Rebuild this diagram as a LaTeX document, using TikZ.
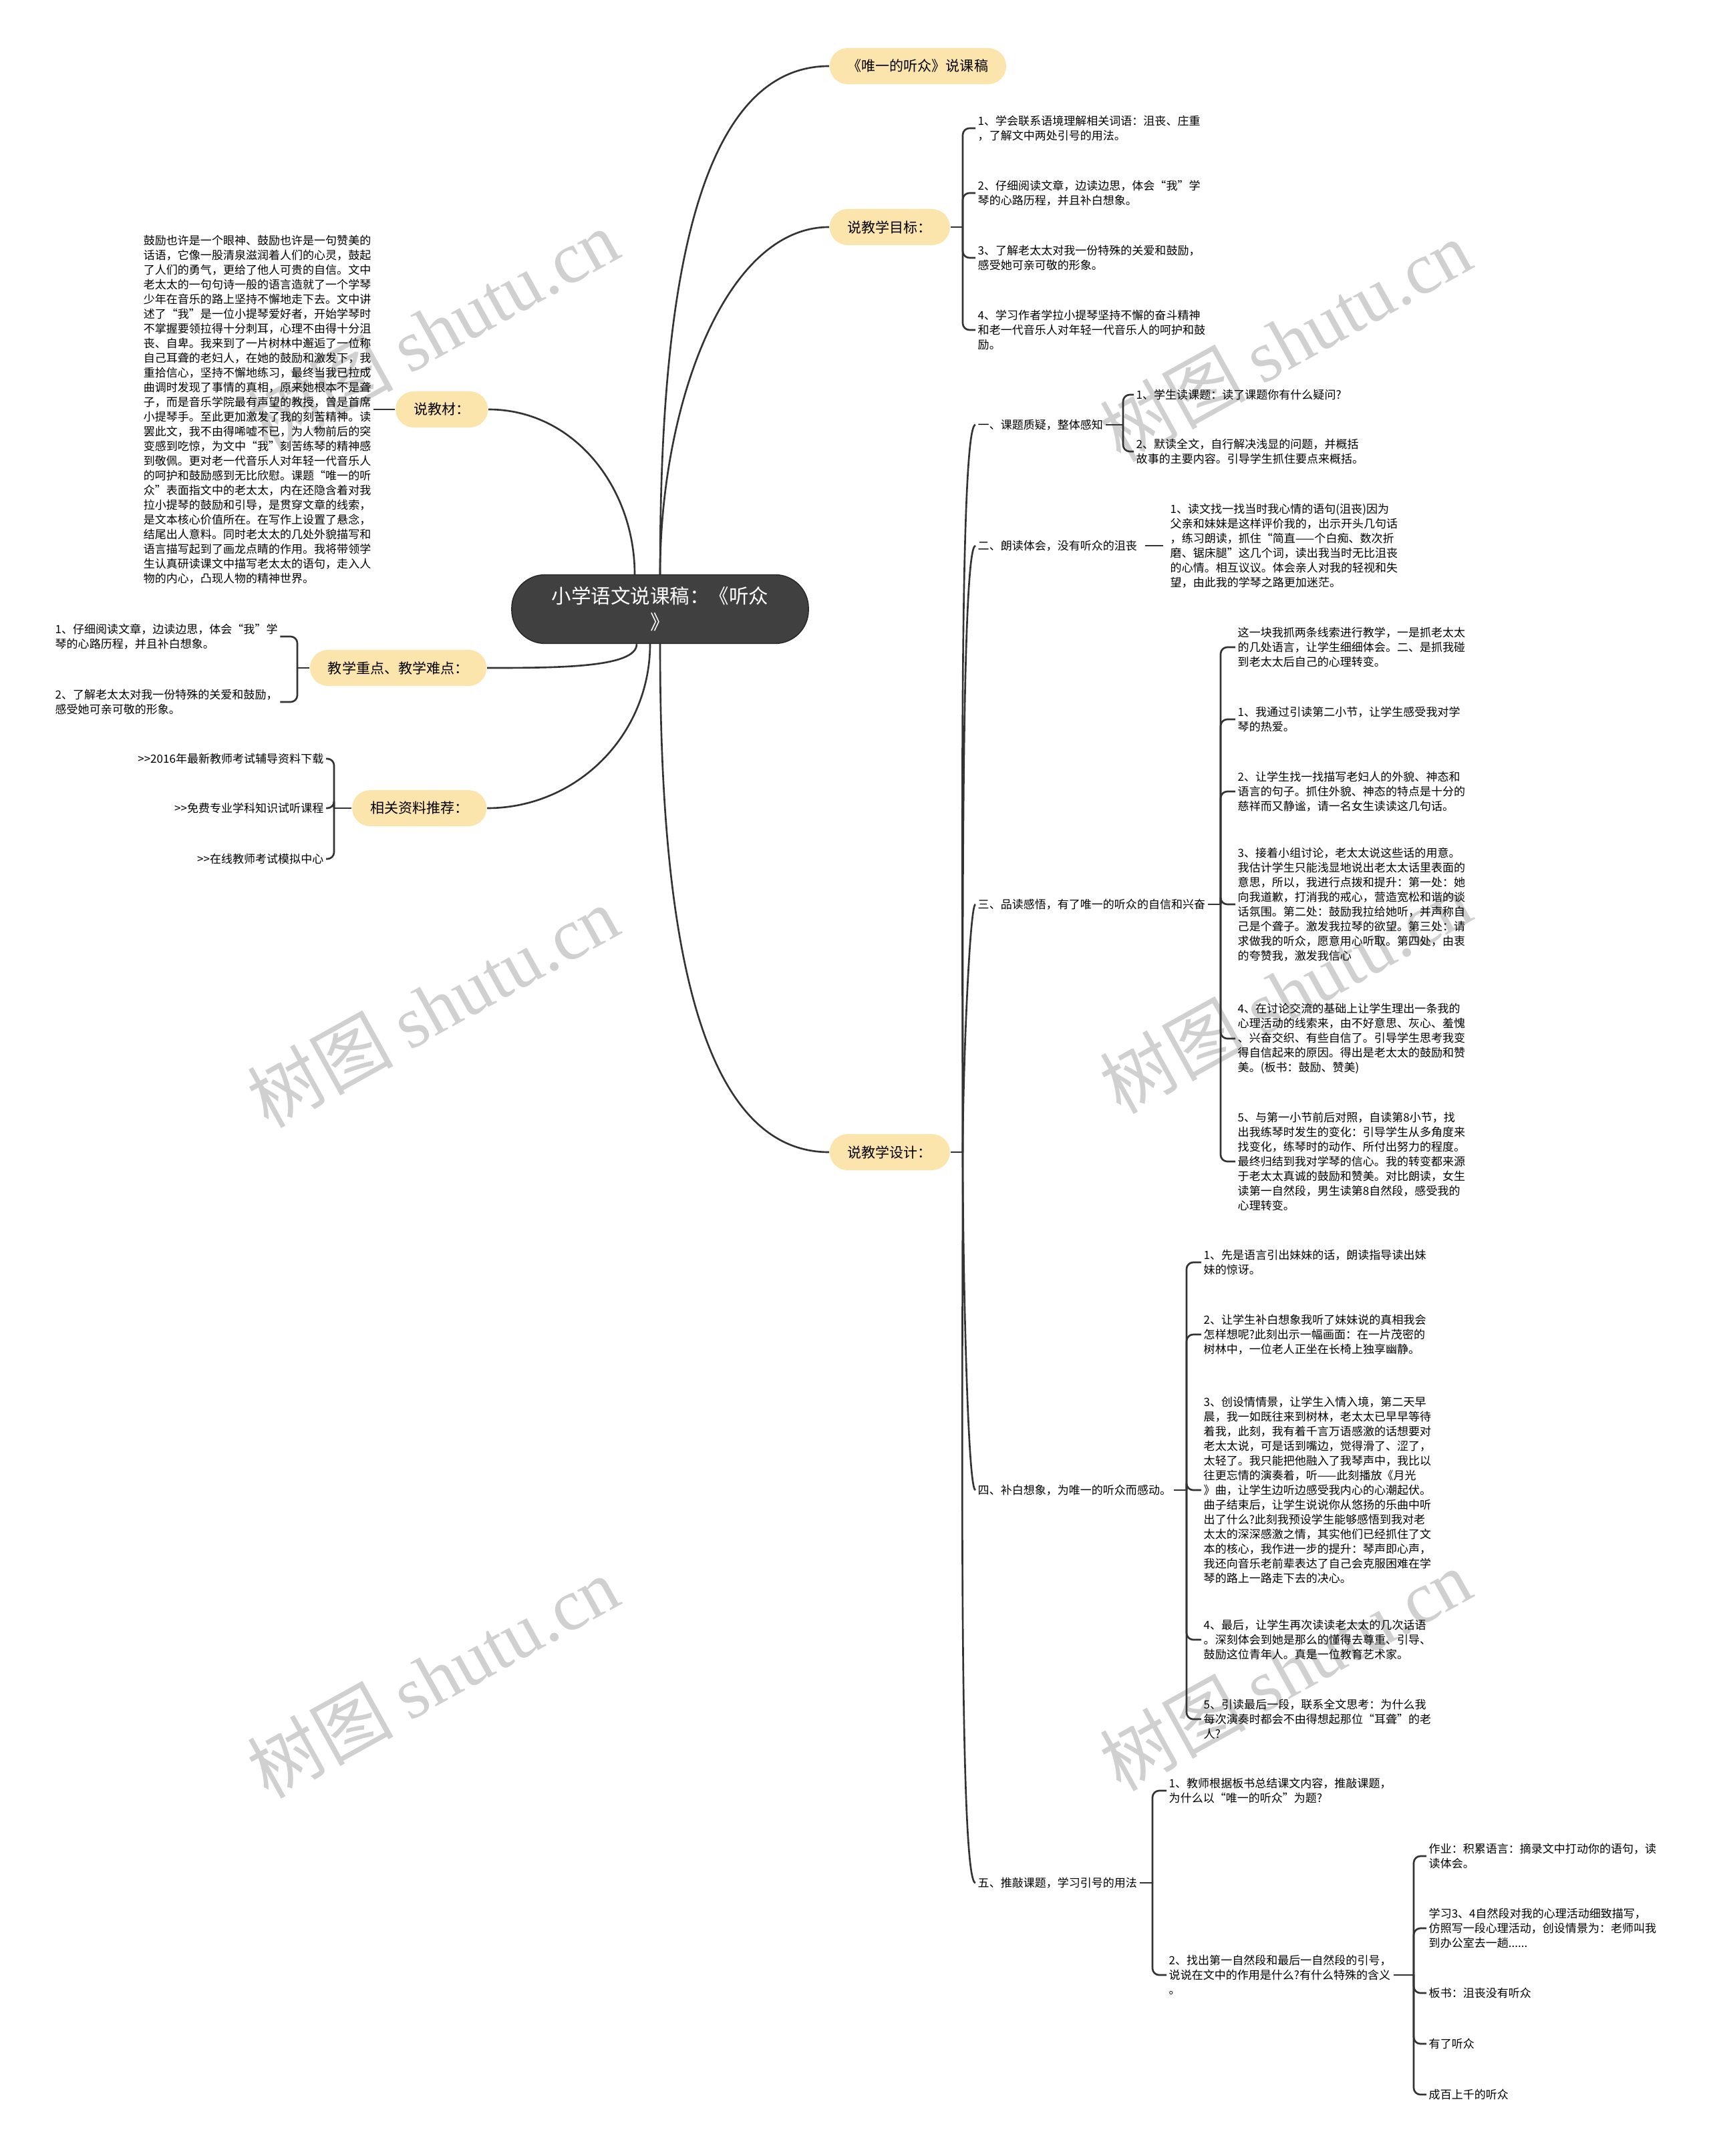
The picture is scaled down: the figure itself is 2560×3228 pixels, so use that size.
\documentclass[tikz,border=0pt]{standalone}
\usepackage{fontspec}
\setmainfont{Noto Sans CJK SC}
\newfontfamily\wmserif{Liberation Serif}
\usepackage{xcolor}
\usepackage{tikz}
\usetikzlibrary{positioning, calc}

\definecolor{branchfill}{RGB}{252,229,172}
\definecolor{rootfill}{RGB}{64,64,64}
\definecolor{rootline}{RGB}{38,38,38}
\definecolor{linegray}{RGB}{51,51,51}
\definecolor{markgray}{RGB}{208,208,208}

\begin{document}
\begin{tikzpicture}[
  x=0.01cm, y=-0.01cm,
  rootbox/.style={
    rectangle,
    draw=rootline,
    fill=rootfill,
    text=white,
    align=center,
    rounded corners=0.5cm,
    minimum width=4.44cm,
    minimum height=1.03cm,
    font=\fontsize{8.4pt}{11.1pt}\selectfont
  },
  branchbox/.style={
    rectangle,
    fill=branchfill,
    rounded corners=0.27cm,
    minimum height=0.54cm,
    inner xsep=0.27cm,
    font=\fontsize{5.98pt}{7pt}\selectfont
  },
  leafbox/.style={
    align=left,
    inner xsep=0.03cm,
    inner ysep=0.02cm,
    font=\fontsize{4.84pt}{6.26pt}\selectfont
  },
  wmark/.style={
    rotate=29,
    text=markgray,
    font=\fontsize{31pt}{31pt}\selectfont
  },
  link/.style={draw=linegray, line width=0.75pt},
  forkline/.style={link, rounded corners=0.1cm},
  curvy/.style={out looseness=1.1, in looseness=0.7},
  fan/.style={out looseness=0.8, in looseness=0.06}
]

  \useasboundingbox (0,0) rectangle (2560,3228);
  \fill[white] (0,0) rectangle (2560,3228);

  % Watermarks
  \node (W1) [wmark] at (648,494)   {树图 {\wmserif shutu.cn}};
  \node (W2) [wmark] at (1924,510)  {树图 {\wmserif shutu.cn}};
  \node (W3) [wmark] at (648,1507)  {树图 {\wmserif shutu.cn}};
  \node (W4) [wmark] at (1924,1486) {树图 {\wmserif shutu.cn}};
  \node (W5) [wmark] at (648,2511)  {树图 {\wmserif shutu.cn}};
  \node (W6) [wmark] at (1924,2500) {树图 {\wmserif shutu.cn}};

  % Root and main branches
  \node (R) [rootbox] at (988,912) {小学语文说课稿：《听众\\》};

  \node (T) [branchbox, anchor=west] at (1241,99)   {《唯一的听众》说课稿};
  \node (M) [branchbox, anchor=west] at (1241,340)  {说教学目标：};
  \node (D) [branchbox, anchor=west] at (1241,1725) {说教学设计：};
  \node (J) [branchbox, anchor=east] at (731,613)   {说教材：};
  \node (Z) [branchbox, anchor=east] at (729,1000)  {教学重点、教学难点：};
  \node (L) [branchbox, anchor=east] at (729,1210)  {相关资料推荐：};

  % Teaching goals
  \node (M1) [leafbox, anchor=west] at (1460,192) {1、学会联系语境理解相关词语：沮丧、庄重\\，了解文中两处引号的用法。};
  \node (M2) [leafbox, anchor=west] at (1460,289) {2、仔细阅读文章，边读边思，体会“我”学\\琴的心路历程，并且补白想象。};
  \node (M3) [leafbox, anchor=west] at (1460,386) {3、了解老太太对我一份特殊的关爱和鼓励，\\感受她可亲可敬的形象。};
  \node (M4) [leafbox, anchor=west] at (1460,494) {4、学习作者学拉小提琴坚持不懈的奋斗精神\\和老一代音乐人对年轻一代音乐人的呵护和鼓\\励。};

  % Teaching material
  \node (J1) [leafbox, anchor=east] at (559,613) {鼓励也许是一个眼神、鼓励也许是一句赞美的\\话语，它像一股清泉滋润着人们的心灵，鼓起\\了人们的勇气，更给了他人可贵的自信。文中\\老太太的一句句诗一般的语言造就了一个学琴\\少年在音乐的路上坚持不懈地走下去。文中讲\\述了“我”是一位小提琴爱好者，开始学琴时\\不掌握要领拉得十分刺耳，心理不由得十分沮\\丧、自卑。我来到了一片树林中邂逅了一位称\\自己耳聋的老妇人，在她的鼓励和激发下，我\\重拾信心，坚持不懈地练习，最终当我已拉成\\曲调时发现了事情的真相，原来她根本不是聋\\子，而是音乐学院最有声望的教授，曾是首席\\小提琴手。至此更加激发了我的刻苦精神。读\\罢此文，我不由得唏嘘不已，为人物前后的突\\变感到吃惊，为文中“我”刻苦练琴的精神感\\到敬佩。更对老一代音乐人对年轻一代音乐人\\的呵护和鼓励感到无比欣慰。课题“唯一的听\\众”表面指文中的老太太，内在还隐含着对我\\拉小提琴的鼓励和引导，是贯穿文章的线索，\\是文本核心价值所在。在写作上设置了悬念，\\结尾出人意料。同时老太太的几处外貌描写和\\语言描写起到了画龙点睛的作用。我将带领学\\生认真研读课文中描写老太太的语句，走入人\\物的内心，凸现人物的精神世界。};

  % Key points
  \node (Z1) [leafbox, anchor=west] at (79,953)  {1、仔细阅读文章，边读边思，体会“我”学\\琴的心路历程，并且补白想象。};
  \node (Z2) [leafbox, anchor=west] at (79,1051) {2、了解老太太对我一份特殊的关爱和鼓励，\\感受她可亲可敬的形象。};

  % Resources
  \node (L1) [leafbox, anchor=east] at (488,1136) {>{}>2016年最新教师考试辅导资料下载};
  \node (L2) [leafbox, anchor=east] at (488,1210) {>{}>免费专业学科知识试听课程};
  \node (L3) [leafbox, anchor=east] at (488,1286) {>{}>在线教师考试模拟中心};

  % Teaching design sections
  \node (S1) [leafbox, anchor=west] at (1460,636)  {一、课题质疑，整体感知};
  \node (S2) [leafbox, anchor=west] at (1460,817)  {二、朗读体会，没有听众的沮丧};
  \node (S3) [leafbox, anchor=west] at (1460,1354) {三、品读感悟，有了唯一的听众的自信和兴奋};
  \node (S4) [leafbox, anchor=west] at (1460,2231) {四、补白想象，为唯一的听众而感动。};
  \node (S5) [leafbox, anchor=west] at (1460,2819) {五、推敲课题，学习引号的用法};

  \node (S1a) [leafbox, anchor=west] at (1697,591) {1、学生读课题：读了课题你有什么疑问?};
  \node (S1b) [leafbox, anchor=west] at (1697,676) {2、默读全文，自行解决浅显的问题，并概括\\故事的主要内容。引导学生抓住要点来概括。};

  \node (S2a) [leafbox, anchor=west] at (1748,817) {1、读文找一找当时我心情的语句(沮丧)因为\\父亲和妹妹是这样评价我的，出示开头几句话\\，练习朗读，抓住“简直——个白痴、数次折\\磨、锯床腿”这几个词，读出我当时无比沮丧\\的心情。相互议议。体会亲人对我的轻视和失\\望，由此我的学琴之路更加迷茫。};

  \node (S3a) [leafbox, anchor=west] at (1849,969)  {这一块我抓两条线索进行教学，一是抓老太太\\的几处语言，让学生细细体会。二、是抓我碰\\到老太太后自己的心理转变。};
  \node (S3b) [leafbox, anchor=west] at (1849,1077) {1、我通过引读第二小节，让学生感受我对学\\琴的热爱。};
  \node (S3c) [leafbox, anchor=west] at (1849,1185) {2、让学生找一找描写老妇人的外貌、神态和\\语言的句子。抓住外貌、神态的特点是十分的\\慈祥而又静谧，请一名女生读读这几句话。};
  \node (S3d) [leafbox, anchor=west] at (1849,1354) {3、接着小组讨论，老太太说这些话的用意。\\我估计学生只能浅显地说出老太太话里表面的\\意思，所以，我进行点拨和提升：第一处：她\\向我道歉，打消我的戒心，营造宽松和谐的谈\\话氛围。第二处：鼓励我拉给她听，并声称自\\己是个聋子。激发我拉琴的欲望。第三处：请\\求做我的听众，愿意用心听取。第四处，由衷\\的夸赞我，激发我信心};
  \node (S3e) [leafbox, anchor=west] at (1849,1555) {4、在讨论交流的基础上让学生理出一条我的\\心理活动的线索来，由不好意思、灰心、羞愧\\、兴奋交织、有些自信了。引导学生思考我变\\得自信起来的原因。得出是老太太的鼓励和赞\\美。(板书：鼓励、赞美)};
  \node (S3f) [leafbox, anchor=west] at (1849,1739) {5、与第一小节前后对照，自读第8小节，找\\出我练琴时发生的变化：引导学生从多角度来\\找变化，练琴时的动作、所付出努力的程度。\\最终归结到我对学琴的信心。我的转变都来源\\于老太太真诚的鼓励和赞美。对比朗读，女生\\读第一自然段，男生读第8自然段，感受我的\\心理转变。};

  \node (S4a) [leafbox, anchor=west] at (1798,1890) {1、先是语言引出妹妹的话，朗读指导读出妹\\妹的惊讶。};
  \node (S4b) [leafbox, anchor=west] at (1798,1998) {2、让学生补白想象我听了妹妹说的真相我会\\怎样想呢?此刻出示一幅画面：在一片茂密的\\树林中，一位老人正坐在长椅上独享幽静。};
  \node (S4c) [leafbox, anchor=west] at (1798,2231) {3、创设情情景，让学生入情入境，第二天早\\晨，我一如既往来到树林，老太太已早早等待\\着我，此刻，我有着千言万语感激的话想要对\\老太太说，可是话到嘴边，觉得滑了、涩了，\\太轻了。我只能把他融入了我琴声中，我比以\\往更忘情的演奏着，听——此刻播放《月光\\》曲，让学生边听边感受我内心的心潮起伏。\\曲子结束后，让学生说说你从悠扬的乐曲中听\\出了什么?此刻我预设学生能够感悟到我对老\\太太的深深感激之情，其实他们已经抓住了文\\本的核心，我作进一步的提升：琴声即心声，\\我还向音乐老前辈表达了自己会克服困难在学\\琴的路上一路走下去的决心。};
  \node (S4d) [leafbox, anchor=west] at (1798,2455) {4、最后，让学生再次读读老太太的几次话语\\。深刻体会到她是那么的懂得去尊重、引导、\\鼓励这位青年人。真是一位教育艺术家。};
  \node (S4e) [leafbox, anchor=west] at (1798,2574) {5、引读最后一段，联系全文思考：为什么我\\每次演奏时都会不由得想起那位“耳聋”的老\\人?};

  \node (S5a) [leafbox, anchor=west] at (1746,2681) {1、教师根据板书总结课文内容，推敲课题，\\为什么以“唯一的听众”为题?};
  \node (S5b) [leafbox, anchor=west] at (1746,2957) {2、找出第一自然段和最后一自然段的引号，\\说说在文中的作用是什么?有什么特殊的含义\\。};

  \node (H1) [leafbox, anchor=west] at (2135,2779) {作业：积累语言：摘录文中打动你的语句，读\\读体会。};
  \node (H2) [leafbox, anchor=west] at (2135,2887) {学习3、4自然段对我的心理活动细致描写，\\仿照写一段心理活动，创设情景为：老师叫我\\到办公室去一趟......};
  \node (H3) [leafbox, anchor=west] at (2135,2984) {板书：沮丧没有听众};
  \node (H4) [leafbox, anchor=west] at (2135,3060) {有了听众};
  \node (H5) [leafbox, anchor=west] at (2135,3136) {成百上千的听众};

  % Connectors from the root
  \coordinate (rJ) at ([xshift=-0.38cm]R.north);
  \coordinate (rZ) at ([xshift=-0.35cm]R.south);
  \coordinate (rL) at ([xshift=-0.15cm]R.south);
  \draw [link] (R.north) to[out=90, in=180, curvy] (T.west);
  \draw [link] (R.north) to[out=90, in=180, curvy] (M.west);
  \draw [link] (R.south) to[out=270, in=180, curvy] (D.west);
  \draw [link] (J.east) to[out=0, in=90] (rJ);
  \draw [link] (rZ) to[out=270, in=0, out looseness=0.4, in looseness=1.2] (Z.east);
  \draw [link] (rL) to[out=270, in=0] (L.east);

  % Forks
  \coordinate (kM) at (1441,340);
  \draw [link] (M.east) -- (kM);
  \draw [forkline] (kM) |- (M1.west);
  \draw [forkline] (kM) |- (M2.west);
  \draw [forkline] (kM) |- (M3.west);
  \draw [forkline] (kM) |- (M4.west);

  \draw [link] (J.west) -- (J1.east);

  \coordinate (kZ) at (445,1000);
  \draw [link] (Z.west) -- (kZ);
  \draw [forkline] (kZ) |- (Z1.east);
  \draw [forkline] (kZ) |- (Z2.east);

  \coordinate (kL) at (500,1210);
  \draw [link] (L.west) -- (kL);
  \draw [forkline] (kL) |- (L1.east);
  \draw [forkline] (kL) |- (L2.east);
  \draw [forkline] (kL) |- (L3.east);

  \coordinate (kD) at (1441,1725);
  \draw [link] (D.east) -- (kD);
  \draw [link] (kD) to[out=90, in=180, fan] (S1.west);
  \draw [link] (kD) to[out=90, in=180, fan] (S2.west);
  \draw [link] (kD) to[out=90, in=180, fan] (S3.west);
  \draw [link] (kD) to[out=270, in=180, fan] (S4.west);
  \draw [link] (kD) to[out=270, in=180, fan] (S5.west);

  \coordinate (k1) at (1681,636);
  \draw [link] (S1.east) -- (k1);
  \draw [forkline] (k1) |- (S1a.west);
  \draw [forkline] (k1) |- (S1b.west);

  \draw [link, shorten <=0.08cm, shorten >=0.07cm] (S2.east) -- (S2a.west);

  \coordinate (k3) at (1827,1354);
  \draw [link] (S3.east) -- (k3);
  \draw [forkline] (k3) |- (S3a.west);
  \draw [forkline] (k3) |- (S3b.west);
  \draw [forkline] (k3) |- (S3c.west);
  \draw [forkline] (k3) |- (S3d.west);
  \draw [forkline] (k3) |- (S3e.west);
  \draw [forkline] (k3) |- (S3f.west);

  \coordinate (k4) at (1776,2231);
  \draw [link] (S4.east) -- (k4);
  \draw [forkline] (k4) |- (S4a.west);
  \draw [forkline] (k4) |- (S4b.west);
  \draw [forkline] (k4) |- (S4c.west);
  \draw [forkline] (k4) |- (S4d.west);
  \draw [forkline] (k4) |- (S4e.west);

  \coordinate (k5) at (1725,2819);
  \draw [link] (S5.east) -- (k5);
  \draw [forkline] (k5) |- (S5a.west);
  \draw [forkline] (k5) |- (S5b.west);

  \coordinate (kH) at (2116,2957);
  \draw [link] (S5b.east) -- (kH);
  \draw [forkline] (kH) |- (H1.west);
  \draw [forkline] (kH) |- (H2.west);
  \draw [forkline] (kH) |- (H3.west);
  \draw [forkline] (kH) |- (H4.west);
  \draw [forkline] (kH) |- (H5.west);

\end{tikzpicture}
\end{document}
